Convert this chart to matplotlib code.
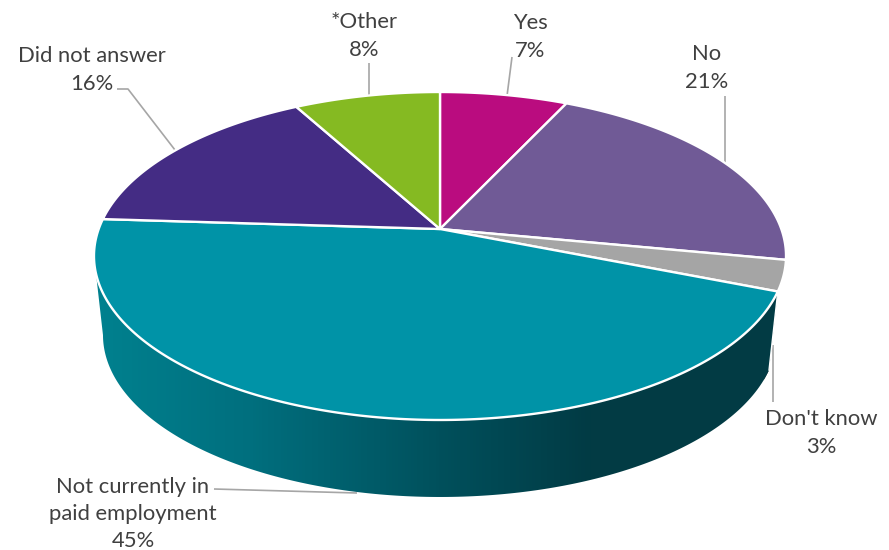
import numpy as np
import matplotlib
matplotlib.use("Agg")
import matplotlib.pyplot as plt
from matplotlib.colors import LinearSegmentedColormap
from matplotlib.patches import Polygon

plt.rcParams['font.family'] = ['Lato', 'DejaVu Sans']

categories = ["Yes", "No", "Don't know", "Not currently in\npaid employment", "Did not answer", "*Other"]
values = [7, 21, 3, 45, 16, 8]
colors = ["#BA0C7F", "#705A96", "#A5A5A5", "#0093A7", "#442C84", "#85BA22"]

# label centres and the leader line belonging to each slice
label_pos = [(530, 37), (707, 68), (821, 433), (133, 514), (92, 70), (364, 36)]
leaders = [
    [(512, 57), (507, 96)],
    [(725, 96), (725, 163)],
    [(773, 345), (773, 402)],
    [(214, 489), (357, 493)],
    [(117, 89), (128, 89), (175, 150)],
    [(369, 63), (369, 96)],
]

# 3d look: the unit circle goes through a perspective tilt
apex = (440, 229)
tilt = 0.1646
scale_x = 341.3
scale_y = 159.55
# the lower rim is the upper ellipse moved down and shrunk a little
top_c = (440, 256)
bot_c = (440, 335)
bot_sx = 337 / 346
bot_sy = 162 / 164


def rim(start, stop, n=200):
    a = np.radians(np.linspace(start, stop, n))
    w = 1 + tilt * np.cos(a)
    return apex[0] + scale_x * np.sin(a) / w, apex[1] - scale_y * np.cos(a) / w


def lower(x, y):
    return bot_c[0] + (x - top_c[0]) * bot_sx, bot_c[1] + (y - top_c[1]) * bot_sy


def wall(start, stop):
    x, y = rim(start, stop)
    xb, yb = lower(x, y)
    return np.column_stack([np.r_[x, xb[::-1]], np.r_[y, yb[::-1]]])


fig = plt.figure(figsize=(8.89, 5.5), dpi=100)
ax = fig.add_axes([0, 0, 1, 1])
ax.set_xlim(0, 889)
ax.set_ylim(550, 0)
ax.axis("off")

edges = np.r_[0, np.cumsum(values)] * 3.6

for pts in leaders:
    ax.plot(*zip(*pts), color="#A6A6A6", lw=1.2, zorder=1, solid_capstyle="butt")

# side walls, only the two slices at the front show
gray_wall = Polygon(wall(edges[1] + 90, edges[3]), fc="#404040", ec="none", zorder=2)
ax.add_patch(gray_wall)

xs, ys = rim(0, 360, 1441)
left_most = np.linspace(0, 360, 1441)[np.argmin(xs)]
teal = Polygon(wall(edges[3], left_most), fc="none", ec="none", zorder=3)
ax.add_patch(teal)
shade = LinearSegmentedColormap.from_list("shade", [
    (0, "#00818F"), (156 / 795, "#006F7E"), (346 / 795, "#00505C"), (496 / 795, "#023B44"), (1, "#023B44")])
im = ax.imshow(np.linspace(0, 1, 795)[None, :], cmap=shade, extent=(94, 889, 550, 0), aspect="auto", zorder=3)
im.set_clip_path(teal)
ax.set_xlim(0, 889)
ax.set_ylim(550, 0)

# white seam between the two walls
sx, sy = rim(edges[3], edges[3], 2)
sxb, syb = lower(sx, sy)
ax.plot([sx[0], sxb[0]], [sy[0], syb[0]], color="white", lw=1.0, zorder=3.5)

# top face
for i, val in enumerate(values):
    x, y = rim(edges[i], edges[i + 1])
    pts = np.column_stack([np.r_[apex[0], x], np.r_[apex[1], y]])
    ax.add_patch(Polygon(pts, fc=colors[i], ec="white", lw=1.7, joinstyle="round", zorder=4))

for name, val, (lx, ly) in zip(categories, values, label_pos):
    ax.text(lx, ly, f"{name}\n{val}%", ha="center", va="center", fontsize=15.8,
            color="#404040", linespacing=1.45, zorder=5)

fig.savefig("out.png", dpi=100)
